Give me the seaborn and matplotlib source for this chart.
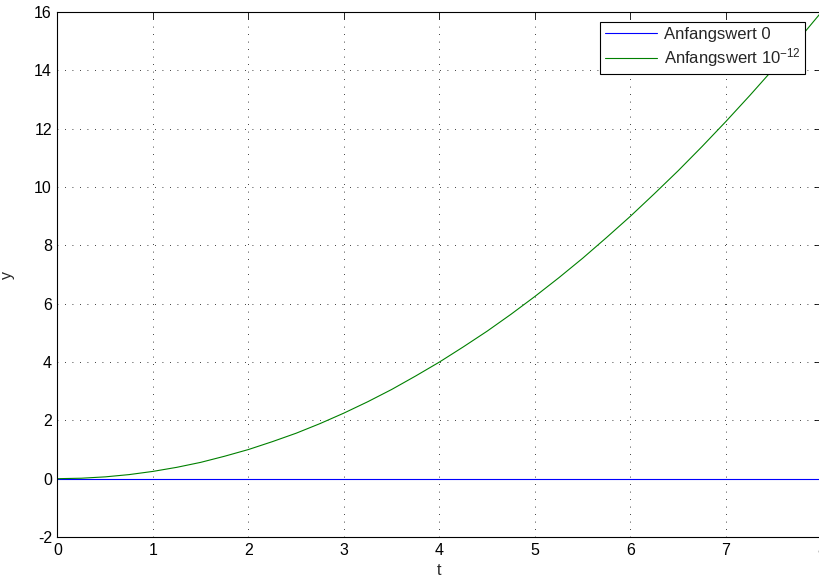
import matplotlib
matplotlib.use("Agg")
import matplotlib.pyplot as plt
import seaborn as sns
import pandas as pd

t_values = [0.0, 0.25, 0.5, 0.75, 1.0, 1.25, 1.5, 1.75, 2.0, 2.25, 2.5, 2.75, 3.0,
            3.25, 3.5, 3.75, 4.0, 4.25, 4.5, 4.75, 5.0, 5.25, 5.5, 5.75, 6.0,
            6.25, 6.5, 6.75, 7.0, 7.25, 7.5, 7.75, 8.0]
y_zero = [0.0] * len(t_values)
y_eps = [0.0, 0.016, 0.0625, 0.14, 0.25, 0.39, 0.56, 0.77, 1.0, 1.27, 1.56, 1.89, 2.25,
         2.64, 3.06, 3.52, 4.0, 4.52, 5.06, 5.64, 6.25, 6.89, 7.56, 8.27, 9.0,
         9.77, 10.56, 11.39, 12.25, 13.14, 14.06, 15.02, 16.0]
series_labels = ["Anfangswert 0", "Anfangswert 10$^{-12}$"]
x_ticks = [0, 1, 2, 3, 4, 5, 6, 7, 8]
y_ticks = [-2, 0, 2, 4, 6, 8, 10, 12, 14, 16]

df = pd.concat([
    pd.DataFrame({"t": t_values, "y": y_zero, "series": series_labels[0]}),
    pd.DataFrame({"t": t_values, "y": y_eps, "series": series_labels[1]}),
])

sns.set_style("white")
plt.rcParams["font.family"] = ["Liberation Sans", "DejaVu Sans"]
plt.rcParams["mathtext.fontset"] = "custom"
plt.rcParams["mathtext.rm"] = "Liberation Sans"
plt.rcParams["mathtext.it"] = "Liberation Sans"
plt.rcParams["mathtext.default"] = "regular"
plt.rcParams["axes.unicode_minus"] = False

fig = plt.figure(figsize=(8.2, 5.81), dpi=100)
ax = fig.add_axes([0.0701, 0.0757, 0.9317, 0.9036])

sns.lineplot(data=df, x="t", y="y", hue="series",
             palette={series_labels[0]: "#0000ff", series_labels[1]: "#008000"},
             linewidth=0.8, ax=ax, legend=True, sort=False)

ax.set_xlim(0, 8)
ax.set_ylim(-2, 16)
ax.set_xticks(x_ticks)
ax.set_yticks(y_ticks)
ax.set_xlabel("t", fontsize=11.5, labelpad=4)
ax.set_ylabel("y", fontsize=11.5, labelpad=14)
ax.tick_params(direction="in", length=5, width=0.6, labelsize=11.5, top=True, right=True,
               colors="black", pad=4)
ax.grid(True, linestyle=(0, (1, 8)), color="black", linewidth=0.6)
for s in ax.spines.values():
    s.set_color("black")
    s.set_linewidth(0.8)

leg = ax.legend(loc="upper right", bbox_to_anchor=(0.979, 0.981), fontsize=12,
                frameon=True, fancybox=False, edgecolor="black", framealpha=1,
                handlelength=3.1, borderpad=0.3, labelspacing=0.25, handletextpad=0.4,
                borderaxespad=0)
leg.get_frame().set_linewidth(0.8)

fig.savefig("out.png", dpi=100)
